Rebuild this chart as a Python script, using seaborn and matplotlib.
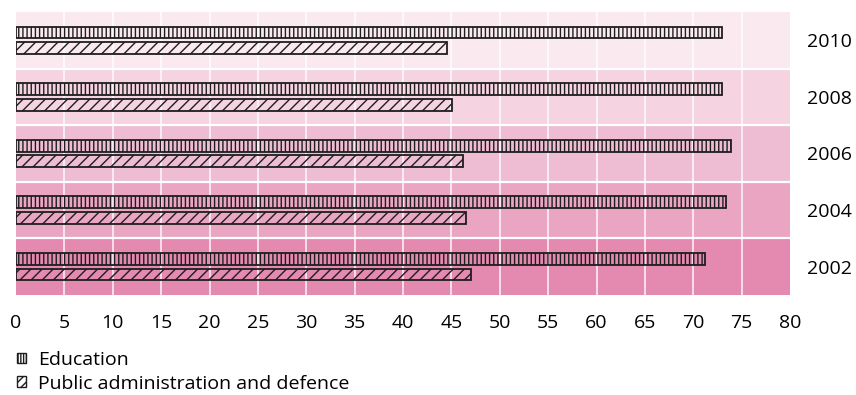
import matplotlib
matplotlib.use("Agg")
import matplotlib.pyplot as plt
import matplotlib.patches as mpatches
import seaborn as sns
import pandas as pd

years = ["2010", "2008", "2006", "2004", "2002"]
education = [73.0, 73.0, 73.9, 73.4, 71.2]
public_admin = [44.5, 45.1, 46.2, 46.5, 47.0]
series = ["Education", "Public administration and defence"]
xticks = list(range(0, 81, 5))

band_colors = ["#fae9ef", "#f5d3e0", "#efbdd3", "#eaa5c2", "#e489b0"]
hatches = ["||||", "///"]
ink = "#1e1e1e"

df = pd.DataFrame({
    "year": years * 2,
    "value": education + public_admin,
    "series": [series[0]] * len(years) + [series[1]] * len(years),
})

sns.set_theme(style="white")
plt.rcParams["font.family"] = ["Open Sans", "DejaVu Sans"]
plt.rcParams["hatch.linewidth"] = 1.0
plt.rcParams["text.color"] = "black"

fig = plt.figure(figsize=(8.56, 3.95), dpi=100)
ax = fig.add_axes([16 / 856, 100 / 395, 774 / 856, 283 / 395])

# coloured background band per year
for i, c in enumerate(band_colors):
    ax.axhspan(i - 0.5, i + 0.5, color=c, lw=0, zorder=0)

sns.barplot(data=df, x="value", y="year", hue="series", order=years,
            hue_order=series, orient="h", width=0.55, gap=0.24,
            fill=False, legend=False, ax=ax, zorder=3)

for container, h in zip(ax.containers, hatches):
    for bar in container:
        bar.set_hatch(h)
        bar.set_facecolor("none")
        bar.set_edgecolor(ink)
        bar.set_linewidth(1.3)

ax.set_xlim(0, 80)
ax.set_ylim(len(years) - 0.5, -0.5)
ax.set_xticks(xticks)
ax.set_xticklabels([str(t) for t in xticks])

# white grid lines
for t in xticks[1:-1]:
    ax.axvline(t, color="white", lw=1.2, alpha=0.85, zorder=1)
for i in range(1, len(years)):
    ax.axhline(i - 0.5, color="white", lw=1.6, zorder=2)

for s in ax.spines.values():
    s.set_visible(False)

ax.yaxis.tick_right()
ax.tick_params(axis="y", length=0, pad=12, labelsize=14, labelcolor="black")
ax.tick_params(axis="x", length=0, pad=14, labelsize=14, labelcolor="black")
ax.set_xlabel("")
ax.set_ylabel("")

handles = [
    mpatches.Patch(facecolor="white", edgecolor=ink, hatch="||||||", lw=1.0, label=series[0]),
    mpatches.Patch(facecolor="white", edgecolor=ink, hatch="////", lw=1.0, label=series[1]),
]
fig.legend(handles=handles, loc="upper left", bbox_to_anchor=(9 / 856, 1 - 343 / 395),
           frameon=False, fontsize=14, handlelength=0.45, handleheight=0.45,
           handletextpad=0.65, labelspacing=0.3, borderaxespad=0,
           labelcolor="black")

fig.savefig("out.png", dpi=100)
